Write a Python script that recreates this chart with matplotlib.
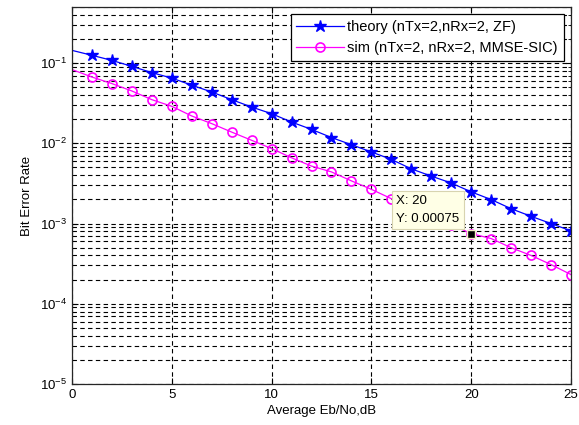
import numpy as np
import matplotlib
matplotlib.use("Agg")
import matplotlib.pyplot as plt
from matplotlib.ticker import LogLocator, FixedLocator

plt.rcParams['font.family'] = ['Liberation Sans', 'DejaVu Sans']
plt.rcParams['mathtext.fontset'] = 'custom'
plt.rcParams['mathtext.rm'] = 'Liberation Sans'
plt.rcParams['mathtext.it'] = 'Liberation Sans:italic'

ebno = list(range(0, 26))
ber_theory_zf = [0.144, 0.125, 0.108, 0.091, 0.076, 0.065, 0.053, 0.0436, 0.035,
                 0.0283, 0.0234, 0.0184, 0.0149, 0.0118, 0.0096, 0.0078, 0.0063,
                 0.0048, 0.0039, 0.0032, 0.00248, 0.00199, 0.00153, 0.00123,
                 0.00100, 0.00081]
ber_sim_mmse_sic = [0.083, 0.067, 0.0555, 0.0449, 0.035, 0.0289, 0.0219, 0.0176,
                    0.0138, 0.0109, 0.0086, 0.0066, 0.0052, 0.0044, 0.0034,
                    0.00267, 0.00204, 0.0016, 0.00125, 0.00097, 0.00075,
                    0.00065, 0.0005, 0.0004, 0.000308, 0.000231]
label_theory = "theory (nTx=2,nRx=2, ZF)"
label_sim = "sim (nTx=2, nRx=2, MMSE-SIC)"
xticks = [0, 5, 10, 15, 20, 25]
tip_x = 20
tip_y = 0.00075

fs = 9.5

fig = plt.figure(figsize=(5.79, 4.25), dpi=100)
ax = fig.add_axes([72/579, 1-384/425, (571-72)/579, (384-7)/425])

ax.semilogy(ebno, ber_theory_zf, color=(0, 0, 1), lw=0.9, marker='*', ms=9,
            markevery=slice(1, None), label=label_theory)
ax.semilogy(ebno, ber_sim_mmse_sic, color=(1, 0, 1), lw=0.9, marker='o', ms=6.5,
            mfc='none', mew=1.2, markevery=slice(1, None), label=label_sim)

ax.set_xlim(0, 25)
ax.set_ylim(1e-5, 0.5)
ax.set_xticks(xticks)
ax.yaxis.set_major_locator(FixedLocator([1e-5, 1e-4, 1e-3, 1e-2, 1e-1]))
ax.yaxis.set_minor_locator(LogLocator(base=10, subs=np.arange(2, 10), numticks=20))
ax.tick_params(which='both', direction='in', top=True, right=True, labelsize=fs,
               length=4)
ax.tick_params(which='minor', length=2)
ax.grid(True, which='major', axis='both', ls=(0, (4, 3)), color='black', lw=0.8)
ax.grid(True, which='minor', axis='y', ls=(0, (4, 3)), color='black', lw=0.8)
for s in ax.spines.values():
    s.set_linewidth(0.9)
    s.set_color('#262626')

ax.set_xlabel("Average Eb/No,dB", fontsize=fs, labelpad=3)
ax.set_ylabel("Bit Error Rate", fontsize=fs, labelpad=5)

leg = ax.legend(loc='upper right', fontsize=10.5, fancybox=False, framealpha=1,
                edgecolor='black', borderaxespad=0.5, handlelength=3.3,
                borderpad=0.4, labelspacing=0.5, handletextpad=0.2)
leg.get_frame().set_linewidth(0.9)

# data tip
ax.plot([tip_x], [tip_y], marker='s', color='black', ms=6, mec='#f5f0c8', mew=1,
        zorder=6)
ax.annotate(f"X: {tip_x}\nY: {tip_y}", xy=(tip_x, tip_y), xytext=(-54, 6.5),
            textcoords='offset points', fontsize=fs, va='bottom', ha='left',
            linespacing=1.6,
            bbox=dict(boxstyle='square,pad=0.35', fc='#ffffe6', ec='#d8d4b0', lw=0.8),
            zorder=7)

fig.savefig("out.png", dpi=100)
